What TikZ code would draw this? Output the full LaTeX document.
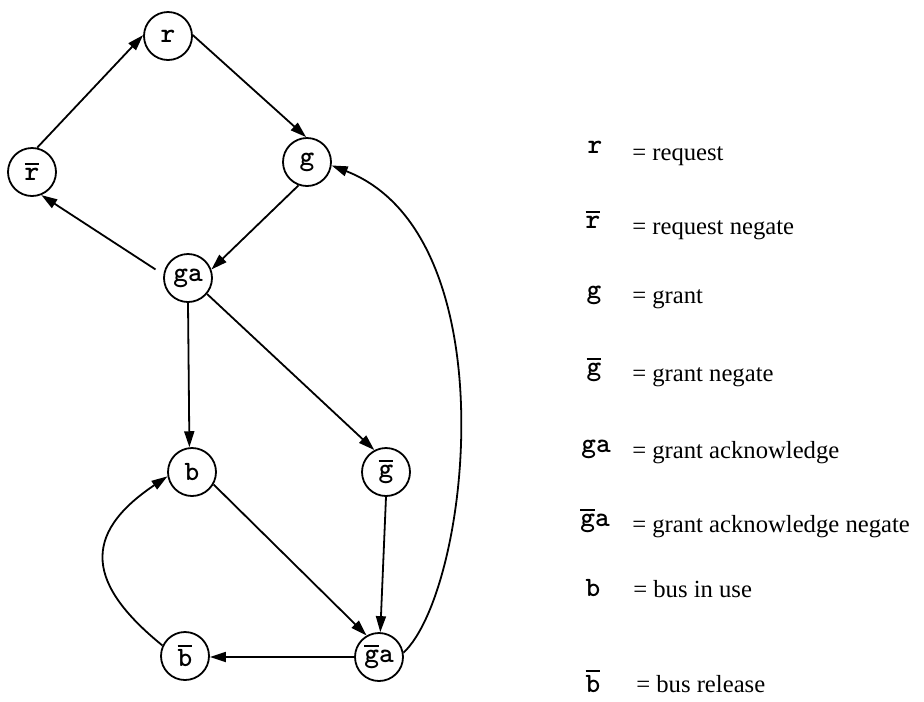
\documentclass[tikz,border=0pt]{standalone}
\usepackage{fontspec}
\setmainfont{Liberation Serif}
\usetikzlibrary{arrows.meta}

% overbar placed just above the letters it covers
\newcommand{\ovl}[1]{\leavevmode\vbox{\hrule height 1.3pt\kern 2.2pt\hbox{#1}}}

\tikzset{
  state/.style={circle, draw, line width=1.35pt, minimum size=36pt, inner sep=0pt,
                font=\ttfamily\bfseries\fontsize{21}{21}\selectfont},
  arr/.style={-{Triangle[length=12pt,width=7.5pt]}, line width=1.35pt},
  sym/.style={anchor=base, inner sep=0pt, font=\ttfamily\bfseries\fontsize{21}{21}\selectfont},
  desc/.style={anchor=base west, inner sep=0pt, font=\fontsize{18.5}{18.5}\selectfont}
}

\begin{document}
\begin{tikzpicture}[x=0.75pt, y=-0.75pt]
  \useasboundingbox (0,0) rectangle (924,701);

  % states
  \node[state] (r)     at (168,36)  {r};
  \node[state] (rbar)  at (32,172)  {\ovl{r}};
  \node[state] (g)     at (307,162) {g};
  \node[state] (ga)    at (188,278) {ga};
  \node[state] (b)     at (192,472) {b};
  \node[state] (gbar)  at (386,472) {\ovl{g}};
  \node[state] (gabar) at (379,657) {\ovl{g}a};
  \node[state] (bbar)  at (185,656) {\ovl{b}};

  % transitions
  \draw[arr] (rbar.78) -- (r.178);
  \draw[arr] (r.2) -- (g.92);
  \draw[arr] (g.250) -- (ga.20);
  \draw[arr, shorten <=7pt] (ga.172) -- (rbar.-68);
  \draw[arr] (ga.-90) -- (b.96);
  \draw[arr] (ga.-40) -- (gbar.118);
  \draw[arr] (b.-30) -- (gabar.120);
  \draw[arr] (gbar.-90) -- (gabar.87);
  \draw[arr] (gabar.west) -- (gabar.west -| bbar.east);
  \draw[arr] (bbar.155) .. controls (88,585) and (80,535) .. (b.190);
  \draw[arr] (gabar.10) .. controls (470,590) and (510,235) .. (g.-8);

  % legend
  \node[sym]  (k-r)     at (595,153) {r};
  \node[desc] (d-r)     at (632,160) {= request};
  \node[sym]  (k-rbar)  at (593,228) {\ovl{r}};
  \node[desc] (d-rbar)  at (632,234) {= request negate};
  \node[sym]  (k-g)     at (594,298) {g};
  \node[desc] (d-g)     at (632,303) {= grant};
  \node[sym]  (k-gbar)  at (594,375) {\ovl{g}};
  \node[desc] (d-gbar)  at (632,381) {= grant negate};
  \node[sym]  (k-ga)    at (596,452) {ga};
  \node[desc] (d-ga)    at (632,458) {= grant acknowledge};
  \node[sym]  (k-gabar) at (595,526) {\ovl{g}a};
  \node[desc] (d-gabar) at (632,532) {= grant acknowledge negate};
  \node[sym]  (k-b)     at (593,596) {b};
  \node[desc] (d-b)     at (633,597) {= bus in use};
  \node[sym]  (k-bbar)  at (593,692) {\ovl{b}};
  \node[desc] (d-bbar)  at (636,692) {= bus release};
\end{tikzpicture}
\end{document}
